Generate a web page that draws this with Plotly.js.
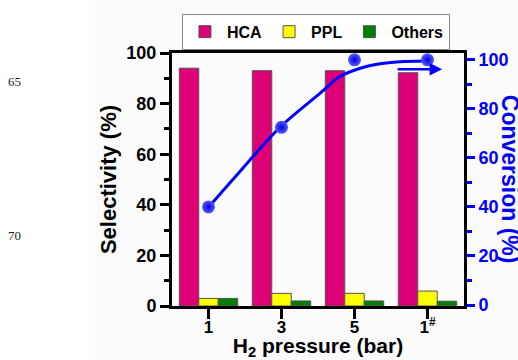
<!DOCTYPE html>
<html>
<head>
<meta charset="utf-8">
<script src="https://cdn.plot.ly/plotly-3.0.1.min.js"></script>
<style>html,body{margin:0;padding:0;background:#fff}#chart{width:518px;height:360px}</style>
</head>
<body>
<div id="chart"></div>
<script>
// ---- data ----
const categories = [0, 1, 2, 3];
const tickLabels = ['1', '3', '5', '1<sup>#</sup>'];
const hca = [94, 93, 93, 92.2];
const ppl = [3, 5, 5, 5.9];
const others = [3, 2, 2, 1.9];
const conversion = [40, 72.5, 100, 100];
// fitted trend curve of conversion
const fitX = [0, 0.41, 0.98, 1.53, 1.80, 2.08, 2.35, 2.62, 2.97];
const fitY = [39.9, 53.8, 72.5, 86.4, 93.2, 96.6, 98.4, 99.2, 99.5];

const F = 'Liberation Sans, Arial, Helvetica, sans-serif';
const barLine = {color: '#555', width: 1};

const traces = [
  {type: 'bar', name: 'HCA', x: categories, y: hca, marker: {color: '#dd0077', line: barLine}},
  {type: 'bar', name: 'PPL', x: categories, y: ppl, marker: {color: '#ffff00', line: barLine}},
  {type: 'bar', name: 'Others', x: categories, y: others, marker: {color: '#007f00', line: barLine}},
  {type: 'scatter', mode: 'lines', x: fitX, y: fitY, yaxis: 'y2', showlegend: false,
   line: {color: '#0000ff', width: 3, shape: 'spline'}, hoverinfo: 'skip'},
  {type: 'scatter', mode: 'markers', x: categories, y: conversion, yaxis: 'y2', showlegend: false,
   marker: {color: '#5a5aff', size: 13, gradient: {type: 'radial', color: '#0000e0'}, line: {width: 0}}}
];

const layout = {
  width: 518, height: 360,
  margin: {l: 172, r: 54, t: 53, b: 54, pad: 0},
  paper_bgcolor: '#ffffff', plot_bgcolor: '#ffffff',
  font: {family: F, size: 17, color: '#000', weight: 700},
  barmode: 'group', bargap: 0.2, bargroupgap: 0,
  showlegend: true,
  legend: {orientation: 'h', x: 0.493, xanchor: 'center', y: 1.155, yanchor: 'top',
           bordercolor: '#888', borderwidth: 1, bgcolor: '#fff',
           font: {family: F, size: 16, weight: 700}, itemwidth: 34,
           traceorder: 'normal'},
  xaxis: {
    range: [-0.5, 3.5], tickvals: categories, ticktext: tickLabels,
    showline: true, linecolor: '#000', linewidth: 3, mirror: true,
    ticks: 'outside', ticklen: 10, tickwidth: 3, tickcolor: '#000',
    ticklabelstandoff: -6,
    showgrid: false, zeroline: false,
    tickfont: {family: F, size: 17, weight: 700},
    title: {text: 'H<sub>2</sub> pressure (bar)', font: {family: F, size: 21, weight: 700}, standoff: 12}
  },
  yaxis: {
    range: [0, 100], dtick: 20, tick0: 0,
    showline: true, linecolor: '#000', linewidth: 3,
    ticks: 'outside', ticklen: 9, tickwidth: 3, tickcolor: '#000',
    minor: {dtick: 10, ticks: 'outside', ticklen: 5, tickwidth: 3, tickcolor: '#000'},
    showgrid: false, zeroline: false,
    tickfont: {family: F, size: 18, weight: 700},
    title: {text: 'Selectivity (%)', font: {family: F, size: 22, weight: 700}, standoff: 4}
  },
  yaxis2: {
    overlaying: 'y', side: 'right', range: [-0.4, 102.8], dtick: 20, tick0: 0,
    showline: true, linecolor: '#000', linewidth: 3,
    ticks: 'outside', ticklen: 8, tickwidth: 3, tickcolor: '#0000ff',
    minor: {dtick: 10, ticks: 'outside', ticklen: 5, tickwidth: 3, tickcolor: '#0000ff'},
    showgrid: false, zeroline: false,
    tickfont: {family: F, size: 18, weight: 700, color: '#0000ff'}
  },
  annotations: [
    {xref: 'paper', yref: 'paper', x: 1.16, y: 0.5, xanchor: 'center', yanchor: 'middle',
     text: 'Conversion (%)', textangle: 90, showarrow: false,
     font: {family: F, size: 23, weight: 700, color: '#0000ff'}},
    {xref: 'x', yref: 'y2', axref: 'x', ayref: 'y2', x: 3.2, y: 96.2, ax: 2.57, ay: 96.2,
     text: '', showarrow: true, arrowcolor: '#0000ff', arrowwidth: 2.5, arrowhead: 2, arrowsize: 1},
    {xref: 'paper', yref: 'paper', x: -0.54, y: 0.888, xanchor: 'center', yanchor: 'middle',
     text: '65', showarrow: false, font: {family: 'Liberation Serif, Times New Roman, serif', size: 13, weight: 400, color: '#222'}},
    {xref: 'paper', yref: 'paper', x: -0.54, y: 0.28, xanchor: 'center', yanchor: 'middle',
     text: '70', showarrow: false, font: {family: 'Liberation Serif, Times New Roman, serif', size: 13, weight: 400, color: '#222'}}
  ],
  shapes: [
    {type: 'rect', xref: 'paper', yref: 'paper', x0: -0.264, x1: 1.2, y0: -0.22, y1: 1.22,
     fillcolor: '#fbfbfb', line: {width: 0}, layer: 'below'}
  ]
};

Plotly.newPlot('chart', traces, layout, {displayModeBar: false, staticPlot: true});
</script>
</body>
</html>
